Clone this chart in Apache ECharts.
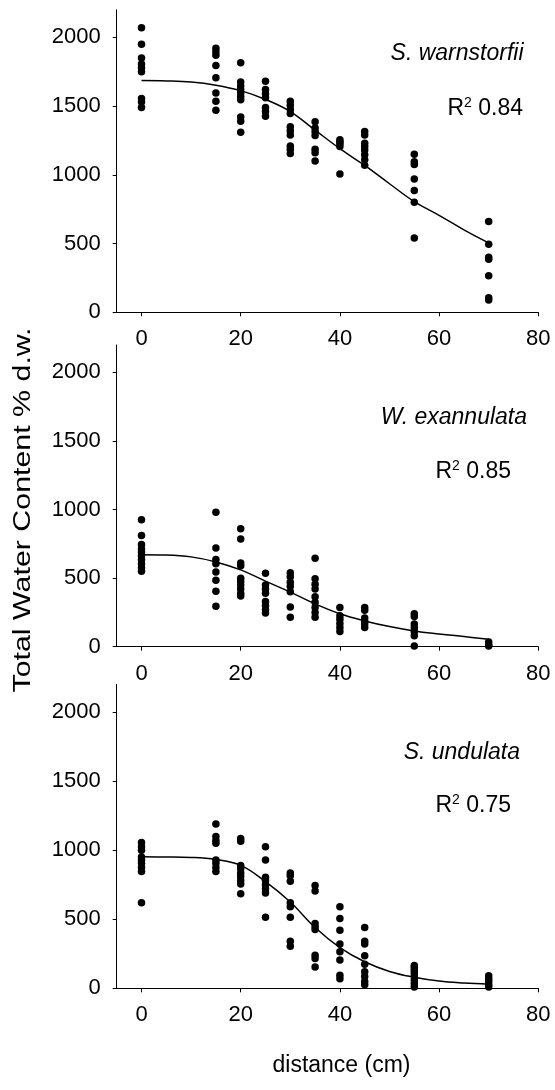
<!DOCTYPE html>
<html>
<head>
<meta charset="utf-8">
<script src="https://cdn.jsdelivr.net/npm/echarts@6/dist/echarts.min.js"></script>
<style>
  html, body { margin: 0; padding: 0; background: #fff; }
  #chart { width: 555px; height: 1090px; }
</style>
</head>
<body>
<div id="chart"></div>
<script>
// Sampling distances (cm) along the transect
const distances = [0, 15, 20, 25, 30, 35, 40, 45, 55, 70];

// Total water content (% d.w.) measured at each distance, one list per distance
const warnstorfiiTWC = [
  [2070, 1950, 1850, 1805, 1780, 1750, 1555, 1530, 1490],
  [1920, 1895, 1870, 1795, 1705, 1595, 1535, 1470],
  [1815, 1675, 1645, 1620, 1595, 1570, 1545, 1420, 1390, 1310],
  [1680, 1620, 1590, 1560, 1490, 1460, 1425],
  [1535, 1505, 1475, 1445, 1350, 1320, 1290, 1210, 1185, 1155],
  [1385, 1340, 1315, 1285, 1185, 1160, 1100],
  [1255, 1240, 1225, 1205, 1005],
  [1315, 1290, 1230, 1205, 1180, 1145, 1110, 1070],
  [1150, 1095, 1075, 970, 885, 800, 540],
  [660, 495, 400, 385, 265, 105, 90]
];
const exannulataTWC = [
  [925, 810, 745, 715, 690, 665, 635, 605, 575, 550],
  [980, 720, 635, 605, 545, 485, 405, 295],
  [860, 785, 610, 590, 500, 475, 450, 420, 390, 370],
  [535, 450, 420, 390, 330, 300, 270, 245],
  [540, 510, 470, 440, 400, 290, 215],
  [645, 495, 455, 420, 365, 325, 285, 250, 215],
  [285, 225, 200, 170, 140, 110],
  [285, 265, 210, 185, 165, 140],
  [240, 220, 165, 140, 110, 80, 5],
  [35, 15, 5]
];
const undulataTWC = [
  [1055, 1025, 1000, 950, 930, 905, 875, 845, 620],
  [1190, 1100, 1070, 1050, 930, 905, 875, 845],
  [1085, 1065, 890, 865, 835, 810, 780, 755, 685],
  [1025, 930, 805, 780, 750, 720, 690, 515],
  [835, 815, 775, 620, 590, 515, 340, 305],
  [745, 705, 470, 445, 425, 240, 215, 155],
  [590, 505, 420, 320, 265, 205, 95, 70],
  [440, 340, 320, 235, 175, 120, 85, 50, 25],
  [165, 150, 130, 110, 85, 60, 35, 10],
  [90, 70, 50, 25, 10]
];

// Fitted curves
const fitX = [0, 5, 10, 15, 20, 25, 30, 35, 40, 45, 50, 55, 60, 65, 70];
const warnstorfiiFit = [1685, 1683, 1675, 1652, 1612, 1548, 1460, 1325, 1190, 1068, 935, 805, 705, 600, 505];
const exannulataFit = [670, 668, 655, 618, 560, 478, 398, 312, 240, 188, 147, 115, 93, 74, 55];
const undulataFit = [952, 951, 948, 933, 890, 772, 625, 440, 295, 192, 122, 80, 52, 38, 30];

// Axis ticks
const xTicks = [0, 20, 40, 60, 80];
const yTicks = [0, 500, 1000, 1500, 2000];

// Panel annotations
const speciesNames = ['S. warnstorfii', 'W. exannulata', 'S. undulata'];
const rSquared = ['0.84', '0.85', '0.75'];

const FONT = '"Liberation Sans", Arial, Helvetica, sans-serif';

function toPairs(lists) {
  const out = [];
  lists.forEach((vals, i) => vals.forEach(v => out.push([distances[i], v])));
  return out;
}
function fitPairs(ys) {
  return fitX.map((x, i) => [x, ys[i]]);
}

const panels = [
  { top: 9.8, height: 302.5, pts: warnstorfiiTWC, fit: warnstorfiiFit,
    sp: [523.5, 54], r2: [523, 109] },
  { top: 345, height: 301.7, pts: exannulataTWC, fit: exannulataFit,
    sp: [527, 418], r2: [511, 472] },
  { top: 684.5, height: 303.8, pts: undulataTWC, fit: undulataFit,
    sp: [520, 753], r2: [511, 806] }
];

const grid = [], xAxis = [], yAxis = [], series = [], graphic = [];

panels.forEach((p, i) => {
  grid.push({ left: 116.7, right: 16.7, top: p.top, height: p.height });
  xAxis.push({
    type: 'value', gridIndex: i, min: -5, max: 80,
    axisLine: { onZero: false, lineStyle: { color: '#000', width: 1 } },
    axisTick: { customValues: xTicks, length: 4, lineStyle: { color: '#000' } },
    axisLabel: { customValues: xTicks, margin: 16, color: '#000', fontSize: 22, fontFamily: FONT,
                 formatter: v => String(v) },
    splitLine: { show: false }
  });
  yAxis.push({
    type: 'value', gridIndex: i, min: 0, max: 2200,
    axisLine: { show: true, onZero: false, lineStyle: { color: '#000', width: 1 } },
    axisTick: { show: true, customValues: yTicks, length: 4, lineStyle: { color: '#000' } },
    axisLabel: { customValues: yTicks, margin: 16, color: '#000', fontSize: 22, fontFamily: FONT,
                 formatter: v => String(v) },
    splitLine: { show: false }
  });
  series.push({
    type: 'scatter', xAxisIndex: i, yAxisIndex: i,
    data: toPairs(p.pts), symbol: 'circle', symbolSize: 7.5,
    itemStyle: { color: '#000', opacity: 1 }, silent: true
  });
  series.push({
    type: 'line', xAxisIndex: i, yAxisIndex: i,
    data: fitPairs(p.fit), smooth: 0.4, showSymbol: false,
    lineStyle: { color: '#000', width: 1.5 }, silent: true
  });
  graphic.push({
    type: 'text', x: p.sp[0], y: p.sp[1],
    style: {
      text: speciesNames[i], font: 'italic 23px ' + FONT, fill: '#000',
      align: 'right', verticalAlign: 'middle', textAlign: 'right', textVerticalAlign: 'middle'
    }
  });
  graphic.push({
    type: 'text', x: p.r2[0], y: p.r2[1],
    style: {
      text: '{r|R}{s|2}{r| ' + rSquared[i] + '}',
      align: 'right', verticalAlign: 'middle', textAlign: 'right', textVerticalAlign: 'middle',
      rich: {
        r: { fontSize: 23, fontFamily: FONT, fill: '#000', lineHeight: 26 },
        s: { fontSize: 14, fontFamily: FONT, fill: '#000', lineHeight: 14, verticalAlign: 'top' }
      }
    }
  });
});

// Shared axis titles (the vertical one is drawn elongated along its reading direction)
graphic.push({
  type: 'text', x: 24, y: 510, rotation: Math.PI / 2, scaleX: 1.32,
  style: {
    text: 'Total Water Content % d.w.', font: '23px ' + FONT, fill: '#000',
    align: 'center', verticalAlign: 'middle', textAlign: 'center', textVerticalAlign: 'middle'
  }
});
graphic.push({
  type: 'text', x: 341.5, y: 1066,
  style: {
    text: 'distance (cm)', font: '23px ' + FONT, fill: '#000',
    align: 'center', verticalAlign: 'middle', textAlign: 'center', textVerticalAlign: 'middle'
  }
});

const chart = echarts.init(document.getElementById('chart'), null, { renderer: 'canvas' });
chart.setOption({
  animation: false,
  backgroundColor: '#fff',
  grid, xAxis, yAxis, series, graphic
});
</script>
</body>
</html>
